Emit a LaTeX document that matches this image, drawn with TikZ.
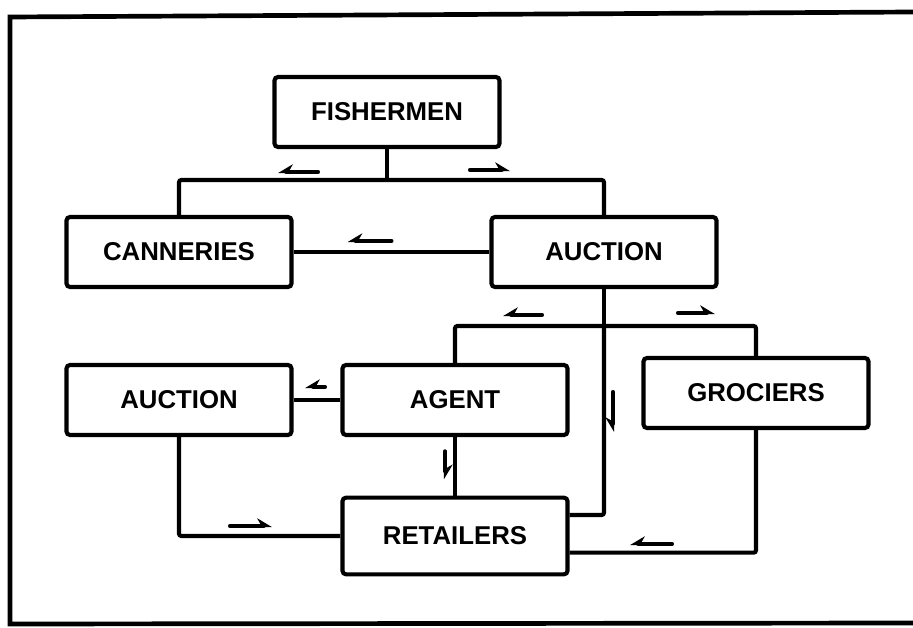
\documentclass[tikz,border=0pt]{standalone}
\usepackage{fontspec}
\setmainfont{Liberation Sans}
\usetikzlibrary{arrows.meta,calc}

\tikzset{
  box/.style={draw,line width=3.5pt,rounded corners=3pt,minimum width=6.75cm,minimum height=2.1cm,
    font=\fontsize{22}{26}\selectfont\bfseries},
  conn/.style={line width=3.5pt,rounded corners=2pt},
  flowtip/.style={line width=3.5pt,line cap=round,-{Stealth[harpoon,length=11pt,width=13pt]}},
  flowtipswap/.style={line width=3.5pt,line cap=round,-{Stealth[harpoon,swap,length=11pt,width=13pt]}},
  frame/.style={line width=4pt}
}

\begin{document}
\begin{tikzpicture}[x=0.03cm,y=-0.03cm]
			\useasboundingbox (0,0) rectangle (913,628);
			\draw [frame] (913,12) -- (10,17) -- (10,624) -- (913,623);

			\node (fishermen) [box] at (387,112) {FISHERMEN};
			\node (canneries) [box] at (179,252) {CANNERIES};
			\node (auction1) [box] at (604,252) {AUCTION};
			\node (auction2) [box] at (179,400) {AUCTION};
			\node (agent) [box] at (455,400) {AGENT};
			\node (grociers) [box] at (756,393) {GROCIERS};
			\node (retailers) [box,minimum height=2.3cm] at (455,536) {RETAILERS};

			\coordinate (split1) at (387,180);
			\coordinate (split2) at (604,326);

			\draw [conn] (fishermen) -- (split1);
			\draw [conn] (canneries) |- (split1) -| (auction1);
			\draw [conn] (canneries) -- (auction1);
			\draw [conn] (auction1) -- (split2);
			\draw [conn] (agent) |- (split2) -| (grociers);
			\draw [conn] (split2) |- ([yshift=0.63cm]retailers.east);
			\draw [conn] (agent) -- (auction2);
			\draw [conn] (agent) -- (retailers);
			\draw [conn] (auction2) |- (retailers);
			\draw [conn] (grociers) |- ([yshift=-0.5cm]retailers.east);

			% direction of flow
			\draw [flowtipswap] ($(split1)+(-69,-8)$) -- ++(-40,0);
			\draw [flowtip] ($(split1)+(83,-10)$) -- ++(40,0);
			\draw [flowtipswap] ($(canneries.east)!0.5!(auction1.west)+(0,-11)$) -- ++(-44,0);
			\draw [flowtipswap] ($(split2)+(-62,-11)$) -- ++(-39,0);
			\draw [flowtip] ($(split2)+(74,-13)$) -- ++(37,0);
			\draw [flowtipswap] ($(agent.west)!0.5!(auction2.east)+(8,-13)$) -- ++(-20,0);
			\draw [flowtip] ($(agent.south)!0.5!(retailers.north)+(-10,-15)$) -- ++(0,28);
			\draw [flowtipswap] ($(split2)+(9,66)$) -- ++(0,40);
			\draw [flowtip] ($(auction2.south |- retailers.west)+(51,-10)$) -- ++(42,0);
			\draw [flowtipswap] ($(grociers.south |- retailers.east)+(-84,8)$) -- ++(-42,0);

		\end{tikzpicture}
\end{document}
